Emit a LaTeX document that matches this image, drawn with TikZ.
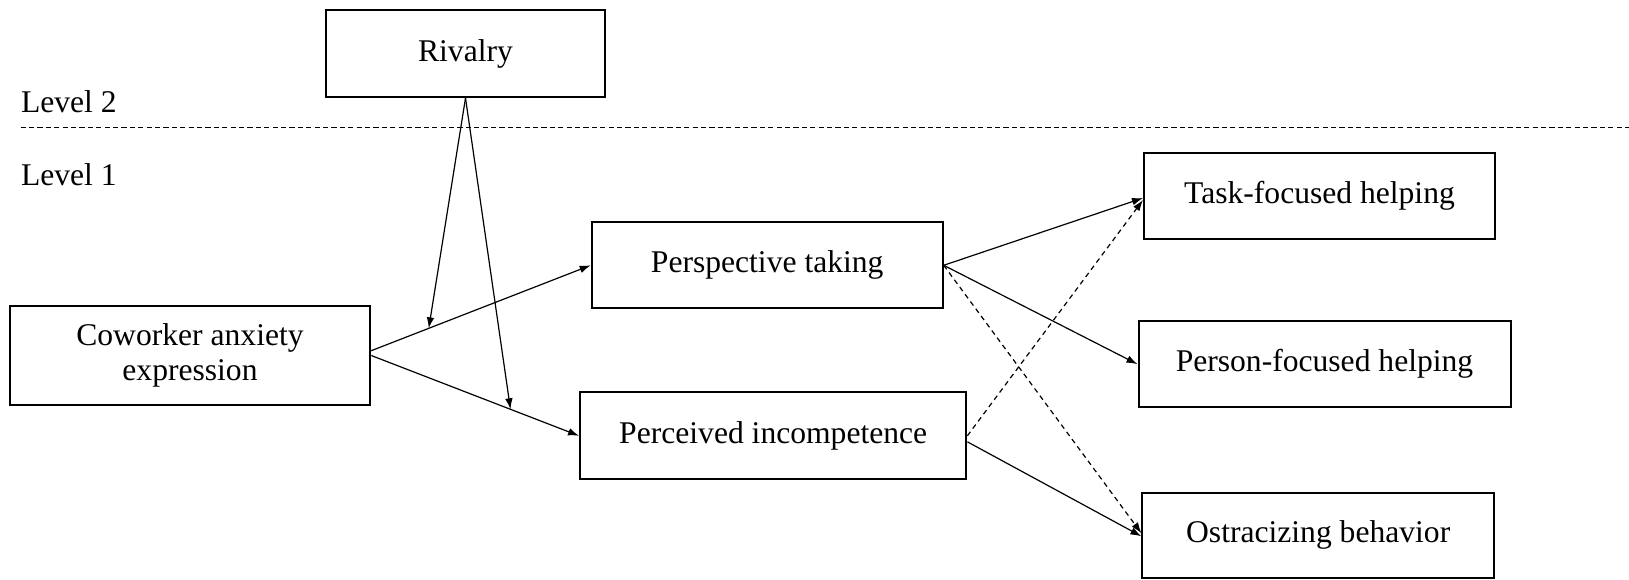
\documentclass[tikz,border=0pt]{standalone}
\usepackage{fontspec}
\setmainfont{Liberation Serif}
\usetikzlibrary{arrows.meta}
\begin{document}
\begin{tikzpicture}[x=0.5pt,y=-0.5pt,
  font=\fontsize{15.8}{17.5}\selectfont,
  box/.style 2 args={draw=black, line width=1pt, rectangle, inner sep=0pt, align=center,
    minimum width=#1*0.5pt, minimum height=#2*0.5pt},
  arr/.style={line width=0.6pt, -{Latex[length=5.5pt,width=3.8pt]}},
  darr/.style={arr, dash pattern=on 2.5pt off 2pt},
  lvl/.style={anchor=base west, inner sep=0pt}]
\useasboundingbox (0,0) rectangle (1629,579);
% nodes
\node[box={279}{87}] (riv) at (465.5,53.5) {Rivalry};
\node[box={360.5}{99}] (cow) at (190,355.5) {Coworker anxiety\\expression};
\node[box={351}{86}] (persp) at (767.2,265.3) {Perspective taking};
\node[box={386.3}{87}] (perc) at (773.2,435.8) {Perceived incompetence};
\node[box={351}{86.6}] (task) at (1319.5,196) {Task-focused helping};
\node[box={372}{86.3}] (pers) at (1324.5,364.2) {Person-focused helping};
\node[box={351.5}{85.6}] (ostr) at (1318.2,535.3) {Ostracizing behavior};
% levels
\node[lvl] (l2) at (20.6,112) {Level 2};
\node[lvl] (l1) at (20.6,185) {Level 1};
\coordinate (dl) at (20.6,127.7);
\coordinate (dr) at (1629,127.7);
\draw[line width=0.55pt, dash pattern=on 2.6pt off 1.6pt] (dl) -- (dr);
% connectors
\draw[arr] ([yshift=2.4pt]cow.east) -- coordinate[pos=0.262] (m1) (persp.west);
\draw[arr] (cow.east) -- coordinate[pos=0.670] (m2) (perc.west);
\draw[arr] (riv.south) -- (m1);
\draw[arr] (riv.south) -- (m2);
\draw[arr] (persp.east) -- ([yshift=-1pt]task.west);
\draw[arr] (persp.east) -- (pers.west);
\draw[darr] (persp.east) -- ([yshift=1pt]ostr.west);
\draw[darr] (perc.east) -- ([yshift=-2pt]task.west);
\draw[arr] ([yshift=-3pt]perc.east) -- ([yshift=-0.5pt]ostr.west);
\end{tikzpicture}
\end{document}
